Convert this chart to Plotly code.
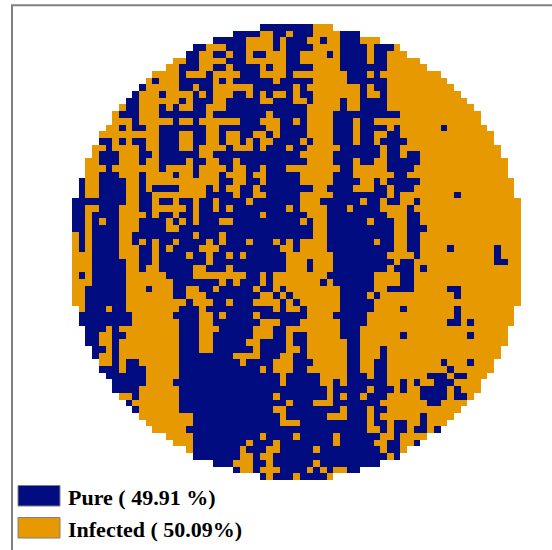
import plotly.graph_objects as go

SERIES = ["Pure", "Infected"]
PERCENT_LABELS = ["Pure ( 49.91 %)", "Infected ( 50.09%)"]
COLORS = ["#000c80", "#e69900"]

# Each row: first column, then runs of class (P/I) through the given last column.
ROW_RUNS = [
    "28 P35 I38",
    "24 P27 I29 P31 I32 P35 I39 P42",
    "21 P25 I29 P30 I31 P34 I36 P37 I39 P42 I45",
    "18 P19 I22 P25 I29 P30 I31 P35 I39 P43 I44 P47 I48",
    "17 P18 I20 P22 I23 P25 I26 P28 I31 P33 I37 P38 I39 P43 I44 P46 I49",
    "15 I16 P18 I22 P25 I31 P33 I39 P43 I44 P46 I51",
    "14 I15 P18 I20 P22 I23 P27 I28 P29 I31 P35 I39 P46 I52",
    "12 I15 P16 I19 P20 I24 P27 I31 P32 I40 P43 I44 P45 I54",
    "11 I11 P12 I15 P20 I21 P22 I23 P29 I30 P35 I40 P46 I55",
    "10 P10 I15 P17 I18 P20 I26 P32 I33 P34 I42 P43 I44 P46 I56",
    "9 P9 I12 P13 I17 P18 I19 P20 I23 P25 I26 P27 I28 P29 I31 P32 I33 P35 I42 P43 I45 P46 I57",
    "8 P9 I15 P16 I17 P20 I22 P27 I29 P32 I34 P35 I39 P40 I42 P46 I58",
    "7 I7 P9 I12 P13 I14 P15 I17 P19 I22 P34 I39 P40 I42 P46 I59",
    "6 I6 P9 I12 P19 I20 P28 I29 P34 I38 P48 I60",
    "6 I8 P9 I14 P15 I17 P18 I24 P27 I30 P32 I33 P34 I38 P41 I42 P44 I60",
    "5 I6 P7 I8 P10 I12 P19 I21 P28 I30 P34 I38 P41 I42 P46 I47 P48 I54 P55 I61",
    "4 I12 P15 I17 P19 I21 P22 I24 P26 I28 P29 I30 P34 I38 P41 I42 P44 I46 P48 I62",
    "4 P5 I6 P7 I8 P10 I12 P15 I17 P19 I21 P22 I24 P25 I26 P27 I29 P33 I34 P35 I38 P41 I42 P44 I45 P49 I62",
    "3 I4 P5 I9 P10 I12 P15 I17 P18 I22 P23 I26 P27 I28 P31 I32 P34 I39 P45 I46 P48 I63",
    "3 I3 P6 I9 P11 I12 P18 I20 P33 I38 P45 I46 P48 I49 P51 I63",
    "2 I3 P6 I9 P10 I12 P16 I17 P19 I21 P23 I24 P34 I38 P41 I42 P44 I46 P51 I64",
    "2 I4 P5 I12 P13 I17 P18 I22 P23 I25 P27 I28 P31 I39 P41 I46 P50 I64",
    "2 I3 P6 I9 P10 I14 P15 I17 P18 I21 P22 I25 P26 I28 P33 I38 P41 I47 P49 I64",
    "1 P1 I3 P7 I9 P10 I21 P23 I25 P27 I28 P33 I38 P42 I44 P45 I46 P51 I65",
    "1 P1 I3 P7 I9 P10 I11 P15 I19 P20 I21 P22 I24 P26 I27 P35 I37 P41 I44 P46 I47 P50 I65",
    "1 P1 I3 P7 I9 P11 I19 P23 I24 P26 I28 P33 I38 P46 I47 P48 I56 P57 I65",
    "0 P7 I9 P11 I12 P14 I15 P17 I18 P20 I21 P25 I26 P33 I36 P42 I43 P45 I46 P48 I50 P51 I66",
    "0 P1 I3 P6 I9 P11 I16 P17 I18 P20 I21 P22 I23 P31 I32 P33 I37 P40 I41 P45 I49 P50 I66",
    "0 P1 I2 P6 I10 P11 I12 P14 I15 P17 I18 P27 I28 P34 I37 P46 I49 P51 I66",
    "0 P1 I2 P3 I4 P6 I9 P13 I14 P15 I16 P17 I18 P21 I23 P33 I34 P35 I37 P43 I44 P47 I49 P51 I66",
    "0 P1 I2 P6 I9 P13 I15 P35 I37 P47 I49 P52 I66",
    "0 I0 P1 I2 P6 I8 P17 I18 P21 I22 P35 I37 P47 I49 P51 I66",
    "0 I0 P1 I2 P6 I8 P9 I10 P11 I12 P14 I15 P19 I20 P21 I22 P25 I26 P29 I30 P31 I32 P33 I37 P44 I45 P47 I49 P51 I66",
    "0 I0 P1 I2 P6 I9 P11 I12 P13 I14 P18 I21 P30 I32 P33 I37 P47 I49 P51 I55 P56 I62 P63 I66",
    "0 I2 P6 I9 P11 I12 P16 I17 P19 I20 P22 I23 P24 I25 P31 I38 P46 I50 P51 I62 P63 I66",
    "0 I2 P7 I9 P11 I12 P19 I20 P31 I34 P35 I38 P47 I48 P50 I62 P64 I66",
    "0 I2 P7 I9 P10 I12 P17 I19 P22 I23 P31 I34 P35 I38 P46 I47 P50 I51 P52 I66",
    "0 I0 P1 I2 P7 I13 P17 I25 P27 I28 P29 I37 P44 I48 P50 I66",
    "0 I2 P7 I14 P21 I22 P23 I24 P27 I28 P29 I36 P37 I38 P44 I48 P50 I66",
    "0 I1 P7 I10 P11 I14 P16 I18 P20 I21 P26 I27 P29 I30 P31 I39 P44 I46 P50 I55 P57 I66",
    "0 I1 P7 I14 P16 I19 P27 I29 P30 I31 P32 I39 P43 I44 P45 I56 P57 I66",
    "0 I1 P7 I16 P17 I20 P22 I23 P26 I30 P31 I32 P33 I39 P44 I66",
    "1 I1 P4 I5 P7 I15 P18 I19 P29 I30 P31 I33 P34 I39 P44 I48 P49 I56 P57 I65",
    "1 P8 I14 P18 I20 P21 I22 P26 I27 P34 I38 P43 I56 P57 I65",
    "1 P8 I15 P18 I20 P27 I30 P33 I39 P43 I55 P57 I58 P59 I65",
    "2 P4 I5 P6 I15 P18 I21 P26 I29 P31 I39 P42 I64",
    "2 P3 I5 P7 I15 P18 I20 P26 I29 P31 I32 P34 I39 P42 I48 P49 I58 P59 I64",
    "2 P3 I5 P6 I15 P18 I20 P25 I27 P31 I32 P34 I40 P42 I64",
    "3 P4 I5 P6 I15 P18 I20 P26 I27 P31 I33 P34 I40 P42 I45 P46 I63",
    "3 P3 I5 P6 I15 P23 I27 P30 I32 P34 I40 P42 I45 P46 I63",
    "4 I5 P6 I7 P9 I15 P24 I25 P29 I32 P35 I40 P42 I44 P46 I54 P55 I58 P59 I62",
    "4 P6 I7 P10 I15 P27 I28 P29 I32 P34 I40 P42 I44 P46 I55 P56 I62",
    "5 P10 I15 P30 I31 P36 I40 P43 I44 P46 I52 P55 I56 P58 I61",
    "6 P10 I14 P30 I31 P36 I38 P39 I40 P46 I48 P49 I50 P51 I53 P56 I60",
    "6 P9 I15 P37 I38 P43 I44 P47 I48 P49 I51 P55 I56 P57 I60",
    "7 I8 P9 I15 P29 I30 P37 I38 P39 I40 P42 I43 P46 I51 P55 I56 P58 I59",
    "8 P8 I15 P31 I32 P35 I38 P45 I52 P54 I58",
    "9 P9 I15 P29 I31 P39 I40 P43 I44 P46 I57",
    "10 I17 P30 I31 P37 I40 P43 I44 P45 I51 P52 I56",
    "11 I17 P30 I33 P43 I44 P46 I47 P49 I51 P52 I55",
    "12 I16 P43 I45 P46 I47 P49 I50 P52 I53 P54",
    "14 I17 P27 I28 P32 I33 P38 I39 P45 I47 P48 I52",
    "15 I17 P25 I26 P29 I30 P38 I39 P44 I46 P48 I50 P51",
    "17 I17 P24 I25 P28 I30 P35 I36 P45 I46 P48 I49",
    "18 P24 I26 P27 I29 P46 I47 P48",
    "21 P23 I26 P28 I29 P35 I36 P45",
    "24 P24 I26 P27 I30 P34 I35 P36 I37 P38 I40 P42",
    "28 P28 I29 P32 I33 P37 I38",
]

N_COLS = 67


def decode(runs):
    parts = runs.split()
    col = int(parts[0])
    row = [None] * N_COLS
    for token in parts[1:]:
        last = int(token[1:])
        value = 0 if token[0] == "P" else 1
        for c in range(col, last + 1):
            row[c] = value
        col = last + 1
    return row


z = [decode(r) for r in ROW_RUNS]

W, H = 552, 550
L, R, T, B = 72, 521, 24.3, 480

fig = go.Figure(
    go.Heatmap(
        z=z,
        zmin=0,
        zmax=1,
        colorscale=[[0, COLORS[0]], [0.5, COLORS[0]], [0.5, COLORS[1]], [1, COLORS[1]]],
        showscale=False,
        hoverinfo="skip",
    )
)


def px(x):
    return (x - L) / (R - L)


def py(y):
    return (B - y) / (B - T)


shapes = [
    dict(type="line", xref="paper", yref="paper", x0=px(12), x1=px(12), y0=py(5.5), y1=py(551),
         line=dict(color="#808080", width=2)),
    dict(type="line", xref="paper", yref="paper", x0=px(11), x1=px(553), y0=py(5.5), y1=py(5.5),
         line=dict(color="#808080", width=2)),
]
annotations = []
for color, label, top, bottom in zip(COLORS, PERCENT_LABELS, [485.5, 517.5], [506, 538]):
    shapes.append(dict(type="rect", xref="paper", yref="paper",
                       x0=px(18), x1=px(60), y0=py(top), y1=py(bottom),
                       fillcolor=color, line=dict(color="#808080", width=1)))
    annotations.append(dict(xref="paper", yref="paper", x=px(66), y=py((top + bottom) / 2 + 1.5),
                            xanchor="left", yanchor="middle", showarrow=False, text=f"<b>{label}</b>",
                            font=dict(family="Liberation Serif", size=22, color="#000000")))

fig.update_layout(
    width=W,
    height=H,
    autosize=False,
    margin=dict(l=L, r=W - R, t=T, b=H - B, pad=0),
    paper_bgcolor="#ffffff",
    plot_bgcolor="#ffffff",
    xaxis=dict(visible=False, range=[-0.5, N_COLS - 0.5], fixedrange=True),
    yaxis=dict(visible=False, range=[len(z) - 0.5, -0.5], fixedrange=True),
    shapes=shapes,
    annotations=annotations,
    showlegend=False,
)

fig.write_html(
    "out.html",
    config={"displayModeBar": False},
    post_script="document.body.style.margin='0';document.body.style.overflow='hidden';",
)
